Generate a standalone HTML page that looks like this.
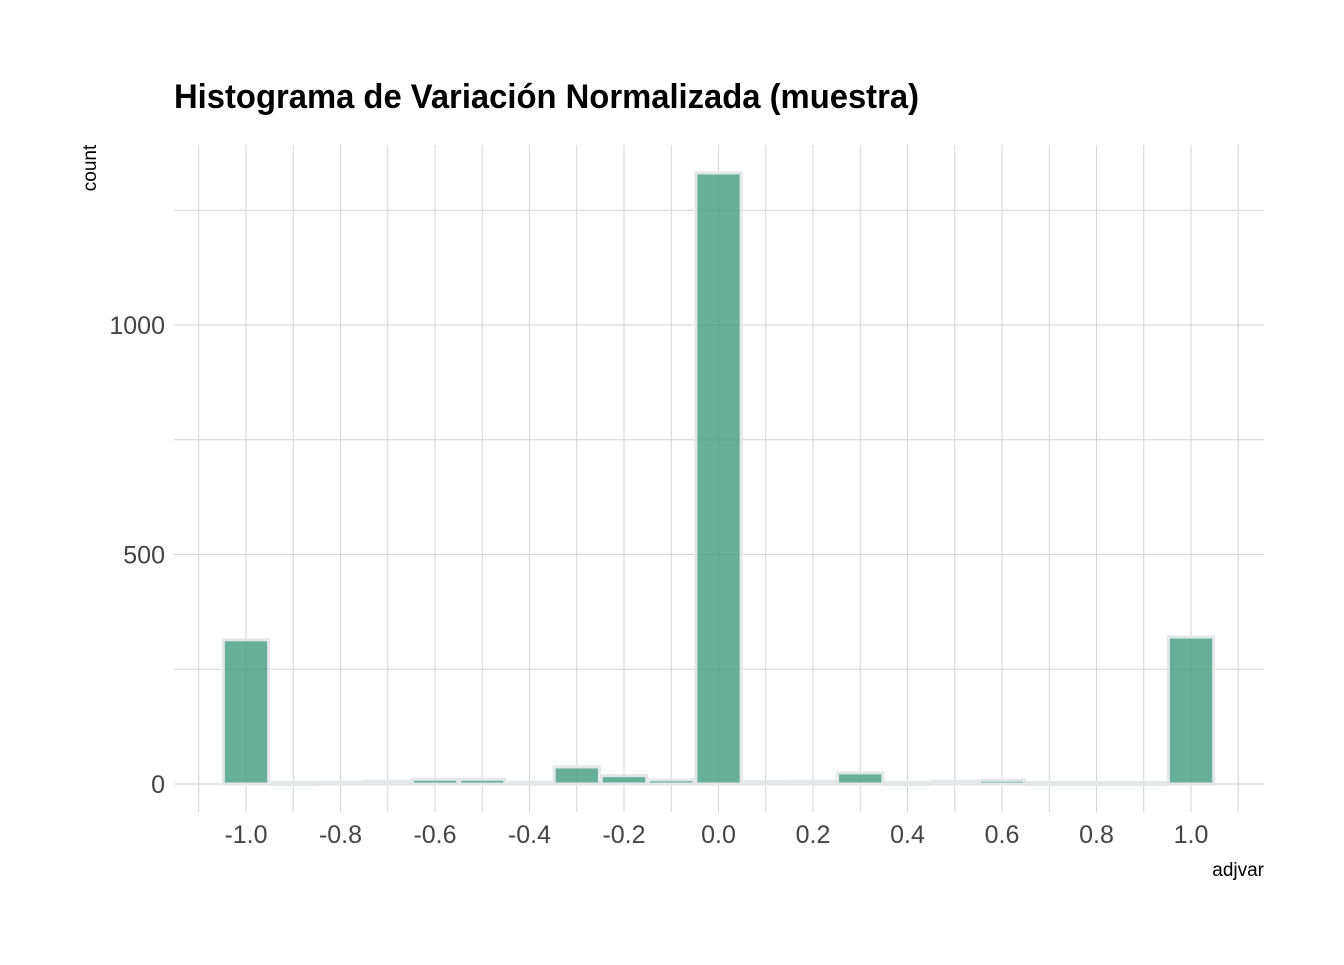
<!DOCTYPE html>
<html><head><meta charset="utf-8"><style>
body{margin:0;background:#fff;}
svg text{font-family:"Liberation Sans",sans-serif;}
</style></head><body>
<svg width="1344" height="960">
<g id="grid"></g><g id="bars"></g><g id="axes"></g>
<text x="174" y="108" font-size="34" font-weight="bold" textLength="745" lengthAdjust="spacingAndGlyphs">Histograma de Variación Normalizada (muestra)</text>
<text transform="translate(96,168) rotate(-90)" font-size="19" text-anchor="middle">count</text>
<text x="1264" y="876" font-size="19" text-anchor="end">adjvar</text>
</svg>
<script>
const binCenters=[-1.0,-0.9,-0.8,-0.7,-0.6,-0.5,-0.4,-0.3,-0.2,-0.1,0.0,0.1,0.2,0.3,0.4,0.5,0.6,0.7,0.8,0.9,1.0];
const counts=[312,1,2,4,8,8,2,35,16,7,1329,3,4,22,1,4,6,1,1,1,318];
const xTicks=[-1.0,-0.8,-0.6,-0.4,-0.2,0.0,0.2,0.4,0.6,0.8,1.0];
const yTicks=[0,500,1000];
const binWidth=0.1;
const NS="http://www.w3.org/2000/svg";
const x=v=>246+(v+1)*472.5;
const y=v=>784-v*0.459;
const L=174,R=1264,T=145,B=812;
const grid=document.getElementById('grid'),bars=document.getElementById('bars'),axes=document.getElementById('axes');
function mk(tag,at,p){const e=document.createElementNS(NS,tag);for(const k in at)e.setAttribute(k,at[k]);p.appendChild(e);return e;}
for(let v=-1.1;v<=1.1001;v+=0.1){
 const l=mk('line',{x1:x(v),x2:x(v),y1:T,y2:B,stroke:'#d4d4d4','stroke-width':1},grid);
 
 
}
for(let v=0;v<=1250;v+=250){
 const l=mk('line',{x1:L,x2:R,y1:y(v),y2:y(v),stroke:'#d4d4d4','stroke-width':1},grid);
 
 
}
binCenters.forEach((c,i)=>{
 const x0=x(c-binWidth/2),x1=x(c+binWidth/2);
 const r=mk('rect',{x:x0+1,y:y(counts[i])-1,width:x1-x0-2,height:Math.max(2,y(0)-y(counts[i])+1),fill:'rgba(60,153,122,0.78)',stroke:'#e4e7ea','stroke-width':3},bars);
 
 
});
xTicks.forEach(v=>{
 const t=mk('text',{x:x(v),y:843,'font-size':25,'text-anchor':'middle',fill:'#444'},axes);
 t.textContent=v.toFixed(1);
 
 
});
yTicks.forEach(v=>{
 const t=mk('text',{x:165,y:y(v)+9,'font-size':25,'text-anchor':'end',fill:'#444'},axes);
 t.textContent=v;
 
 
});
</script>
</body></html>
